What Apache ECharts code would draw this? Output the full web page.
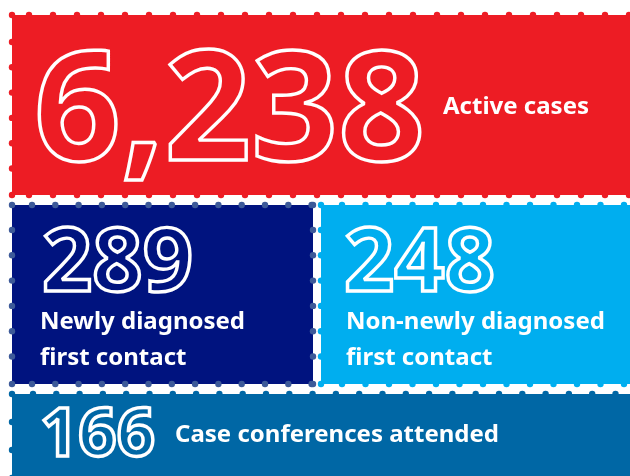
<!DOCTYPE html>
<html>
<head>
<meta charset="utf-8">
</head>
<body style="margin: 0; background: #fff">
<div id="container" style="width: 630px; height: 476px"></div>
<script src="https://cdn.jsdelivr.net/npm/echarts@6/dist/echarts.min.js"></script>
<script>
var counts = [6238, 289, 248, 166];
var captions = [
    'Active cases',
    'Newly diagnosed\nfirst contact',
    'Non-newly diagnosed\nfirst contact',
    'Case conferences attended'
];

// panel boxes, colours and where the number / caption sit
var panels = [
    {x: 12, y: 15, w: 640, h: 180, fill: '#ED1C24', dot: '#ED1C24',
     top: {off: 17, step: 24}, left: {off: 27, step: 25.3}, bottom: {off: 17, step: 24},
     num: {x: 34, y: 117, size: 152}, cap: {x: 443, y: 107, size: 24}},
    {x: 12, y: 205, w: 301, h: 179, fill: '#00137F', dot: '#3D5A99',
     top: {off: 20, step: 23.3}, left: {off: 25, step: 25.3}, bottom: {off: 20, step: 23.3}, right: {off: 25, step: 25.3},
     num: {x: 42, y: 266, size: 88}, cap: {x: 40, y: 340, size: 24}},
    {x: 321, y: 205, w: 320, h: 179, fill: '#00AEEF', dot: '#00AEEF',
     top: {off: 21, step: 23.5}, left: {off: 25, step: 25.3}, bottom: {off: 21, step: 23.5},
     num: {x: 344, y: 266, size: 88}, cap: {x: 346, y: 340, size: 24}},
    {x: 12, y: 394, w: 640, h: 90, fill: '#0067A5', dot: '#0067A5',
     top: {off: 21, step: 23.3}, left: {off: 28, step: 28},
     num: {x: 40, y: 437, size: 67}, cap: {x: 175, y: 435, size: 24}}
];

var dom = document.getElementById('container');
var myChart = echarts.init(dom);
var elements = [];

function dot(cx, cy, color) {
    elements.push({type: 'circle', shape: {cx: cx, cy: cy, r: 3.2}, style: {fill: color}, z: 1});
}

panels.forEach(function (p, i) {
    var x1 = Math.min(p.x + p.w, 632);
    var y1 = p.y + p.h;
    elements.push({type: 'rect', shape: {x: p.x, y: p.y, width: p.w, height: p.h}, style: {fill: p.fill}, z: 0});
    var v;
    if (p.top) { dot(p.x, p.y, p.dot); for (v = p.x + p.top.off; v <= x1; v += p.top.step) dot(v, p.y, p.dot); }
    if (p.bottom) { dot(p.x, y1, p.dot); for (v = p.x + p.bottom.off; v <= x1; v += p.bottom.step) dot(v, y1, p.dot); }
    if (p.left) { for (v = p.y + p.left.off; v < y1 - 4; v += p.left.step) dot(p.x, v, p.dot); }
    if (p.right) { dot(x1, p.y, p.dot); dot(x1, y1, p.dot); for (v = p.y + p.right.off; v < y1 - 4; v += p.right.step) dot(x1, v, p.dot); }

    elements.push({
        type: 'text', z: 2,
        style: {
            x: p.num.x, y: p.num.y,
            text: counts[i].toLocaleString('en-US'),
            font: 'bold ' + p.num.size + 'px "Noto Sans"',
            fill: 'transparent', stroke: '#fff', lineWidth: 3.4,
            align: 'left', verticalAlign: 'middle'
        }
    });
    elements.push({
        type: 'text', z: 2,
        style: {
            x: p.cap.x, y: p.cap.y,
            text: captions[i],
            font: 'bold ' + p.cap.size + 'px "Noto Sans"',
            lineHeight: 36,
            fill: '#fff',
            align: 'left', verticalAlign: 'middle'
        }
    });
});

var option = {
    animation: false,
    graphic: {elements: elements}
};

myChart.setOption(option);
</script>
</body>
</html>
